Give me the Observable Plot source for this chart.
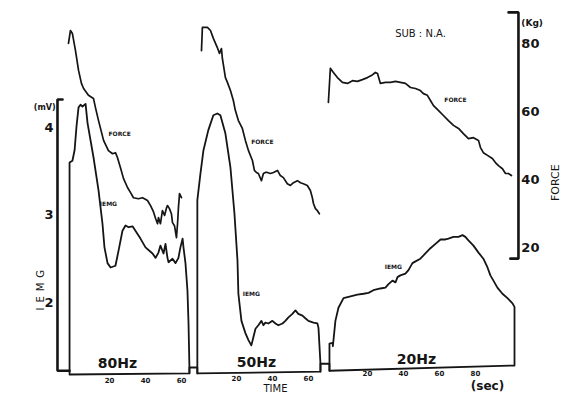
<!DOCTYPE html>
<html>
<head>
<meta charset="utf-8">
<script src="https://cdn.jsdelivr.net/npm/d3@7"></script>
<script src="https://cdn.jsdelivr.net/npm/@observablehq/plot@0.6"></script>
<style>
  html, body { margin: 0; padding: 0; background: #fff; }
  #chart svg { display: block; background: #fff; }
</style>
</head>
<body>
<div id="chart"></div>
<script>
// Stimulation frequencies, one recording panel each
const panels = ["80Hz", "50Hz", "20Hz"];

// Time ticks (sec) printed under each panel
const timeTicks = { "80Hz": [20, 40, 60], "50Hz": [20, 40, 60], "20Hz": [20, 40, 60, 80] };
// Left axis ticks: IEMG (mV); right axis ticks: force (kg)
const emgTicks = [2, 3, 4];
const forceTicks = [20, 40, 60, 80];

// IEMG traces: [time (sec), IEMG (mV)]
const emg80 = [[-2.2,3.60],[-0.6,3.62],[0.6,3.74],[1.7,4.02],[2.8,4.23],[3.9,4.26],[5.0,4.24],[6.7,4.27],[7.8,4.05],[11.1,3.66],[13.9,3.28],[16.1,2.90],[17.2,2.63],[18.9,2.45],[20.6,2.40],[23.3,2.42],[25.0,2.59],[27.2,2.82],[28.9,2.88],[30.6,2.86],[32.8,2.87],[34.4,2.82],[37.2,2.73],[40.0,2.63],[43.9,2.56],[45.6,2.51],[47.2,2.57],[48.3,2.65],[50.0,2.56],[51.1,2.67],[52.2,2.51],[52.8,2.46],[55.0,2.50],[56.7,2.45],[58.3,2.51],[59.4,2.63],[60.6,2.73],[61.1,2.63],[62.2,2.45],[63.3,2.14],[63.9,1.76],[64.4,1.26]];
const emg50 = [[-1.7,3.17],[0.0,3.47],[1.7,3.74],[4.4,3.97],[7.2,4.14],[9.4,4.16],[11.1,4.14],[13.9,3.93],[16.7,3.54],[18.9,3.02],[20.6,2.48],[21.1,2.10],[22.8,1.79],[25.0,1.65],[26.7,1.57],[28.3,1.51],[29.4,1.60],[30.6,1.70],[32.2,1.74],[33.9,1.79],[35.0,1.74],[36.1,1.77],[37.8,1.76],[40.0,1.79],[41.7,1.76],[43.3,1.74],[45.6,1.76],[47.2,1.79],[48.9,1.83],[51.1,1.87],[52.8,1.91],[54.4,1.87],[56.7,1.85],[58.3,1.82],[60.0,1.79],[62.8,1.77],[65.0,1.76],[65.6,1.71],[66.7,1.30]];
const emg20 = [[-1.1,1.53],[0.6,1.54],[0.8,1.50],[2.2,1.79],[3.9,1.94],[6.7,2.05],[10.6,2.07],[14.4,2.09],[17.8,2.10],[20.6,2.11],[23.3,2.14],[27.2,2.16],[30.0,2.17],[31.7,2.21],[33.9,2.25],[35.6,2.23],[36.7,2.29],[38.3,2.31],[41.1,2.33],[42.8,2.37],[45.0,2.45],[46.7,2.47],[49.4,2.50],[52.2,2.56],[55.0,2.62],[57.8,2.67],[60.6,2.72],[63.3,2.72],[65.0,2.73],[67.8,2.75],[70.6,2.75],[72.8,2.77],[74.4,2.75],[76.1,2.71],[78.9,2.65],[81.7,2.57],[84.4,2.50],[86.7,2.40],[88.3,2.31],[90.0,2.25],[92.2,2.17],[95.0,2.10],[97.8,2.05],[100.6,1.99],[101.7,1.95]];

// Force traces: [time (sec), force (kg)]
const force80 = [[-2.8,80.0],[-1.7,83.8],[-0.6,82.9],[1.1,77.9],[2.8,72.1],[4.4,68.3],[5.6,66.8],[8.3,64.8],[11.1,63.9],[12.2,61.2],[13.9,57.4],[16.7,51.6],[19.4,48.6],[21.7,47.7],[23.3,48.0],[24.4,46.6],[26.1,43.6],[27.8,40.4],[30.0,37.8],[31.7,36.3],[33.3,34.8],[36.1,34.5],[38.3,34.8],[39.4,34.5],[41.1,34.0],[42.8,32.5],[44.4,30.7],[45.6,28.7],[46.7,27.2],[47.2,29.0],[48.3,27.2],[49.4,31.0],[50.6,29.6],[51.7,31.9],[52.2,32.5],[53.3,31.6],[54.4,30.1],[55.0,27.5],[56.1,26.6],[57.2,23.1],[57.8,27.2],[58.3,31.9],[58.9,36.0],[60.0,34.8]];
const force50 = [[0.6,77.9],[1.1,84.7],[3.9,84.7],[5.6,83.8],[7.2,81.5],[9.4,78.8],[10.6,77.1],[11.7,78.5],[12.2,75.6],[13.9,70.0],[15.0,68.6],[16.7,66.2],[18.3,63.3],[19.4,60.4],[21.1,57.4],[23.3,55.1],[25.0,51.6],[26.7,48.6],[28.9,45.7],[30.0,42.8],[31.1,42.2],[32.2,41.9],[33.9,39.8],[35.0,41.9],[36.1,42.2],[37.2,42.2],[38.9,41.9],[40.6,42.2],[42.8,42.8],[44.4,41.3],[46.1,40.7],[48.3,38.9],[50.0,38.4],[51.7,39.2],[53.9,39.8],[55.6,39.2],[57.2,38.9],[59.4,38.4],[61.1,36.9],[62.2,34.8],[62.8,33.1],[63.9,31.6],[65.0,31.0],[66.1,30.1]];
const force20 = [[-1.7,62.7],[-0.6,72.7],[1.1,71.5],[3.3,70.0],[6.1,68.6],[8.9,68.3],[11.7,69.1],[14.4,68.9],[17.2,69.4],[20.0,70.0],[22.2,70.6],[24.4,71.5],[25.6,71.2],[27.2,68.3],[30.0,68.6],[32.8,68.6],[35.6,68.9],[38.3,68.6],[41.1,68.3],[43.9,67.1],[46.7,66.8],[49.4,66.2],[51.1,65.3],[53.3,64.8],[55.0,63.3],[56.7,61.8],[59.4,60.4],[62.2,58.9],[65.0,57.4],[67.8,56.0],[70.6,55.1],[73.3,53.6],[76.1,52.1],[78.9,52.4],[81.7,51.6],[82.8,49.5],[84.4,48.0],[86.7,47.2],[89.4,46.3],[91.1,45.1],[92.8,44.2],[95.0,43.3],[96.7,41.9],[98.3,41.9],[100.0,41.3]];

const emgData = { "80Hz": emg80, "50Hz": emg50, "20Hz": emg20 };
const forceData = { "80Hz": force80, "50Hz": force50, "20Hz": force20 };

// ---- layout of the recorder strip ----
// each panel sits on one shared time axis at its own offset; baselines in mV
const layout = {
  "80Hz": { offset: 0,     baseL: 1.177, baseR: 1.19, name: [24.4, 1.30], tickDy: 6.5 },
  "50Hz": { offset: 70.5,  baseL: 1.19,  baseR: 1.21, name: [31.1, 1.31], tickDy: 6 },
  "20Hz": { offset: 143.3, baseL: 1.22,  baseR: 1.28, name: [47.2, 1.35], tickDy: 5.5 }
};
const bridgeLevels = [1.257, 1.30];     // pen lift between panels
const leftAxisT = -8.9, rightAxisT = 247.2;

// force (kg) shares the vertical scale with IEMG (mV)
const kgToMv = kg => 4.96 - 0.039 * (80 - kg);

const pt = (panel, t, v) => ({ x: layout[panel].offset + t, y: v });

// IEMG outlines: rise from the baseline, trace, drop back, close along the baseline
const emgOutlines = panels.map(p => {
  const d = emgData[p], L = layout[p];
  const t0 = d[0][0], t1 = d[d.length - 1][0];
  return [[t0, L.baseL], ...d, [t1, L.baseR], [t0, L.baseL]].map(([t, v]) => ({ ...pt(p, t, v), panel: p }));
}).flat();

const forceLines = panels.map(p => forceData[p].map(([t, kg]) => ({ ...pt(p, t, kgToMv(kg)), panel: p }))).flat();

// connecting steps of the baseline between panels
const bridges = [];
for (let i = 0; i < panels.length - 1; i++) {
  const a = panels[i], b = panels[i + 1];
  const ta = emgData[a][emgData[a].length - 1][0], tb = emgData[b][0][0];
  const lvl = bridgeLevels[i];
  [[a, ta, layout[a].baseR], [a, ta, lvl], [b, tb, lvl], [b, tb, layout[b].baseL]]
    .forEach(([p, t, v]) => bridges.push({ ...pt(p, t, v), k: i }));
}

// left IEMG axis bracket with its foot joining the first panel
const leftAxis = [
  { x: leftAxisT + 2.8, y: 4.32 }, { x: leftAxisT, y: 4.32 },
  { x: leftAxisT, y: 1.22 }, { x: layout["80Hz"].offset + emg80[0][0], y: 1.22 }
];
// right force axis bracket
const rightAxis = [
  { x: rightAxisT - 5.5, y: kgToMv(89.1) }, { x: rightAxisT, y: kgToMv(89.1) },
  { x: rightAxisT, y: kgToMv(16.95) }, { x: rightAxisT - 4.5, y: kgToMv(16.95) }
];

const tickLabels = panels.flatMap(p => timeTicks[p].map(t => ({
  ...pt(p, t, (layout[p].baseL + layout[p].baseR) / 2), text: String(t), panel: p
})));
const nameLabels = panels.map(p => ({ ...pt(p, layout[p].name[0], layout[p].name[1]), text: p }));

// small trace annotations
const traceNotes = [
  { ...pt("80Hz", 25.6, 3.92), text: "FORCE" },
  { ...pt("80Hz", 19.4, 3.13), text: "IEMG" },
  { ...pt("50Hz", 34.4, 3.83), text: "FORCE" },
  { ...pt("50Hz", 28.3, 2.10), text: "IEMG" },
  { ...pt("20Hz", 68.9, 4.31), text: "FORCE" },
  { ...pt("20Hz", 34.4, 2.40), text: "IEMG" }
];

const INK = "#151515";
const FONT = "DejaVu Sans";

const chart = Plot.plot({
  width: 575,
  height: 393,
  margin: 0,
  x: { domain: [-40.56, 278.89], axis: null },
  y: { domain: [0.96, 5.451], axis: null },
  marks: [
    Plot.line(leftAxis, { x: "x", y: "y", stroke: INK, strokeWidth: 2.6, strokeLinejoin: "miter" }),
    Plot.line(rightAxis, { x: "x", y: "y", stroke: INK, strokeWidth: 2.6, strokeLinejoin: "miter" }),
    Plot.line(emgOutlines, { x: "x", y: "y", z: "panel", stroke: INK, strokeWidth: 1.8 }),
    Plot.line(bridges, { x: "x", y: "y", z: "k", stroke: INK, strokeWidth: 1.8 }),
    Plot.line(forceLines, { x: "x", y: "y", z: "panel", stroke: INK, strokeWidth: 1.7 }),

    // left axis labels
    Plot.text(emgTicks, { x: leftAxisT - 2.2, y: d => d, text: d => String(d), textAnchor: "end", fontFamily: FONT, fontWeight: "bold", fontSize: 13, fill: INK }),
    Plot.text(["(mV)"], { x: leftAxisT - 1.0, y: 4.23, text: d => d, textAnchor: "end", fontFamily: FONT, fontWeight: "bold", fontSize: 8, fill: INK }),
    Plot.text(["I\u2002E\u2002M\u2002G"], { x: -18.3, y: 2.14, text: d => d, rotate: -90, fontFamily: FONT, fontSize: 10, fill: INK }),

    // right axis labels
    Plot.text(forceTicks, { x: rightAxisT + 1.6, y: d => kgToMv(d), text: d => String(d), textAnchor: "start", fontFamily: FONT, fontWeight: "bold", fontSize: 13, fill: INK }),
    Plot.text(["(Kg)"], { x: rightAxisT + 1.6, y: 5.19, text: d => d, textAnchor: "start", fontFamily: FONT, fontWeight: "bold", fontSize: 9, fill: INK }),
    Plot.text(["FORCE"], { x: 267.8, y: 3.37, text: d => d, rotate: -90, fontFamily: FONT, fontSize: 11, fill: INK }),

    // time ticks, panel names and captions
    ...panels.map(p => Plot.text(tickLabels.filter(d => d.panel === p), {
      x: "x", y: "y", text: "text", dy: layout[p].tickDy,
      fontFamily: FONT, fontWeight: "bold", fontSize: 7, fill: INK
    })),
    Plot.text(nameLabels, { x: "x", y: "y", text: "text", fontFamily: FONT, fontWeight: "bold", fontSize: 14, fill: INK }),
    Plot.text(traceNotes, { x: "x", y: "y", text: "text", fontFamily: FONT, fontWeight: "bold", fontSize: 6, fill: INK }),
    Plot.text(["TIME"], { x: 112.2, y: 1.017, text: d => d, fontFamily: FONT, fontSize: 10, fill: INK }),
    Plot.text(["(sec)"], { x: 230, y: 1.07, text: d => d, dy: 2, fontFamily: FONT, fontWeight: "bold", fontSize: 12, fill: INK }),
    Plot.text(["SUB : N.A."], { x: 192.8, y: 5.07, text: d => d, fontFamily: FONT, fontSize: 10, fill: INK })
  ]
});

document.getElementById("chart").appendChild(chart);
</script>
</body>
</html>
